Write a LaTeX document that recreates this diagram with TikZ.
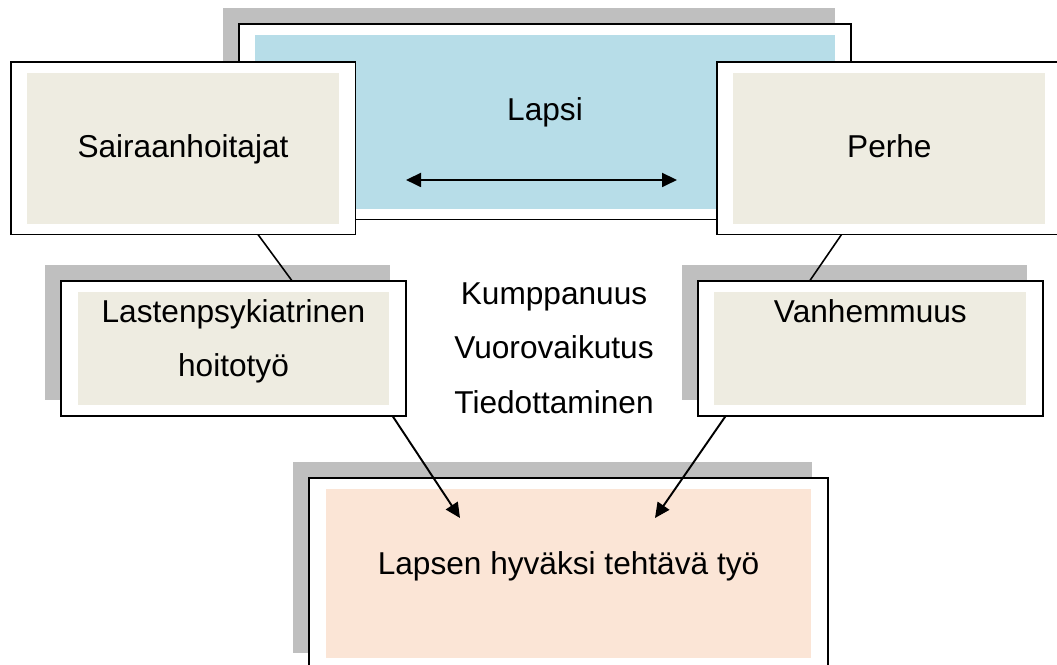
\documentclass[tikz,border=0pt]{standalone}
\usepackage{fontspec}
\setmainfont{Liberation Sans}
\usepackage{xcolor}
\usepackage{tikz}
\usetikzlibrary{calc, positioning, shadows, arrows.meta}

\definecolor{skyfill}{HTML}{B7DDE8}
\definecolor{sandfill}{HTML}{EEECE1}
\definecolor{peachfill}{HTML}{FBE5D6}
\definecolor{shadowgrey}{HTML}{BFBFBF}

\begin{document}
\begin{tikzpicture}[x=0.02cm, y=-0.02cm, >={Triangle[length=0.3cm, width=0.28cm]},
    font=\fontsize{18}{31}\selectfont,
    frame/.style={draw, line width=1.1pt, fill=white, inner sep=0pt, outer sep=0pt,
      path picture={\fill[#1] ($(path picture bounding box.south west)+(0.33cm,0.21cm)$)
        rectangle ($(path picture bounding box.north east)+(-0.33cm,-0.21cm)$);}},
    boxshadow/.style={drop shadow={shadow xshift=-0.32cm, shadow yshift=0.32cm, opacity=1, fill=shadowgrey}},
    txt/.style={inner sep=0pt, align=center}]
    \useasboundingbox (0,0) rectangle (1057,665);
    % boxes
    \node (lapsi) [frame=skyfill, boxshadow, minimum width=12.26cm, minimum height=3.91cm] at (545,121.75) {};
    \node (sair) [frame=sandfill, minimum width=6.9cm, minimum height=3.45cm] at (183,148.25) {};
    \node (perhe) [frame=sandfill, minimum width=6.9cm, minimum height=3.45cm, right=7.23cm of sair] {};
    \node (hoito) [frame=sandfill, boxshadow, minimum width=6.9cm, minimum height=2.7cm] at (233.5,348.5) {};
    \node (vanh) [frame=sandfill, boxshadow, minimum width=6.9cm, minimum height=2.7cm, right=5.84cm of hoito] {};
    \node (tyo) [frame=peachfill, boxshadow, minimum width=10.38cm, minimum height=3.82cm] at (568.5,573.5) {};
    % texts
    \node (lapsi-t) [txt, below=1.46cm of lapsi.north] {Lapsi};
    \node (sair-t) [txt, below=1.44cm of sair.north] {Sairaanhoitajat};
    \node (perhe-t) [txt, below=1.44cm of perhe.north] {Perhe};
    \node (hoito-t) [txt, below=0.36cm of hoito.north] {Lastenpsykiatrinen\\hoitotyö};
    \node (vanh-t) [txt, below=0.36cm of vanh.north] {Vanhemmuus};
    \node (kesk-t) [txt, anchor=north] at (554,282) {Kumppanuus\\Vuorovaikutus\\Tiedottaminen};
    \node (tyo-t) [txt, below=1.46cm of tyo.north] {Lapsen hyväksi tehtävä työ};
    % connectors
    \draw[line width=0.9pt] (sair.-49) -- (hoito.49);
    \draw[line width=0.9pt] (perhe.-119) -- (vanh.132);
    \coordinate (lapsi-v) at ($(lapsi.south)+(-139,-39.5)$);
    \coordinate (lapsi-o) at ($(lapsi.south)+(132,-39.5)$);
    \draw[<->, line width=1.1pt] (lapsi-v) -- (lapsi-o);
    \coordinate (tyo-l) at ($(tyo.north)+(-108.5,40)$);
    \coordinate (tyo-r) at ($(tyo.north)+(86.5,40)$);
    \draw[->, line width=1.1pt] (hoito.-23.6) -- (tyo-l);
    \draw[->, line width=1.1pt] (vanh.-155.4) -- (tyo-r);
\end{tikzpicture}
\end{document}
